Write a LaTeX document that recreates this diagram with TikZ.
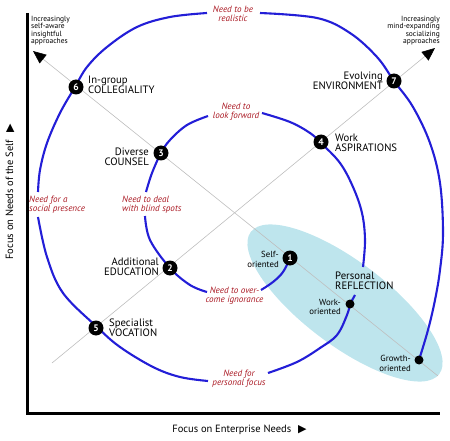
\documentclass[tikz,border=0pt]{standalone}
\usepackage{fontspec}
\setmainfont{PT Sans}
\newfontfamily\trifont{DejaVu Sans}
\usetikzlibrary{arrows.meta}
\definecolor{spiralblue}{RGB}{35,30,215}
\definecolor{needred}{RGB}{170,25,35}
\definecolor{cyanfill}{RGB}{190,229,237}
\definecolor{diaggray}{RGB}{190,190,190}
\begin{document}
\begin{tikzpicture}[x=1pt,y=-1pt,
  stagenum/.style={circle,fill=black,minimum size=15pt,inner sep=0pt,text=white,font=\bfseries\fontsize{9.5}{9.5}\selectfont},
  smalldot/.style={circle,fill=black,minimum size=9pt,inner sep=0pt},
  stagelabel/.style={font=\fontsize{10.7}{10.5}\selectfont,inner sep=0pt,align=left},
  orientlabel/.style={font=\fontsize{8.8}{9.2}\selectfont,inner sep=0pt,align=right},
  needlabel/.style={font=\itshape\fontsize{9.1}{9.3}\selectfont,text=needred,inner sep=0pt,align=center},
  cornerlabel/.style={font=\fontsize{7.5}{7.6}\selectfont,inner sep=0pt},
  axislabel/.style={font=\fontsize{10.5}{10.5}\selectfont,inner sep=0pt},
  diagline/.style={draw=diaggray,line width=0.6pt},
  spiralline/.style={draw=spiralblue,line width=2.1pt},
  axisline/.style={draw=black,line width=3pt}
]
\useasboundingbox (0,0) rectangle (450,441);

% light blue ellipse
\fill[cyanfill, rotate around={-37:(345,303)}] (345,303) ellipse [x radius=118, y radius=42];

% diagonals
\coordinate (aStart) at (438,376);
\coordinate (aTip) at (33,51);
\coordinate (bStart) at (52,363);
\coordinate (bTip) at (435,48);
\draw[diagline,-{Triangle[length=13pt,width=11pt,color=black]}] (aStart) -- (aTip);
\draw[diagline,-{Triangle[length=13pt,width=11pt,color=black]}] (bStart) -- (bTip);

% axes
\coordinate (axTop) at (27,13);
\coordinate (axCorner) at (27,413);
\coordinate (axRight) at (440,413);
\draw[axisline] (axTop) -- (axCorner) -- (axRight);

% spiral segments
\draw[spiralline] plot[smooth,tension=0.6] coordinates {(290,258) (283,272) (273,282) (261,290)};
\draw[spiralline] plot[smooth,tension=0.6] coordinates {(207,292) (190,285) (170,268) (150,240) (145,216)};
\draw[spiralline] plot[smooth,tension=0.6] coordinates {(146,192) (152,173) (161,153) (170,140) (187,125) (208,116)};
\draw[spiralline] plot[smooth,tension=0.6] coordinates {(262,113) (290,122) (310,133) (321,143) (340,163) (353,187) (362,213) (365,240) (363,267)};
\draw[spiralline] plot[smooth,tension=0.6] coordinates {(355,295) (350,304)};
\draw[spiralline] plot[smooth,tension=0.6] coordinates {(350,304) (347,315) (337,335) (320,348) (297,362) (268,373)};
\draw[spiralline] plot[smooth,tension=0.6] coordinates {(208,381) (180,377) (153,367) (120,347) (97,327) (63,293) (47,257) (38,217)};
\draw[spiralline] plot[smooth,tension=0.6] coordinates {(38,192) (40,170) (47,143) (60,113) (75,87) (87,67) (107,47) (137,27) (170,17) (207,13)};
\draw[spiralline] plot[smooth,tension=0.6] coordinates {(260,13) (317,18) (350,33) (377,57) (394,81) (413,107) (430,143) (440,183) (443,233) (440,270) (435,300) (428,330) (419,360)};

% stage markers
\node[stagenum] (n1) at (290,258) {1};
\node[stagenum] (n2) at (170,268) {2};
\node[stagenum] (n3) at (161,153) {3};
\node[stagenum] (n4) at (321,142) {4};
\node[stagenum] (n5) at (96,328) {5};
\node[stagenum] (n6) at (76,87) {6};
\node[stagenum] (n7) at (394,81) {7};
\node[smalldot] (dw) at (350,304) {};
\node[smalldot] (dg) at (419,360) {};

% stage labels
\node[stagelabel,anchor=west,align=left] (l6) at (88,85) {In-group\\COLLEGIALITY};
\node[stagelabel,anchor=east,align=right] (l3) at (149,157) {Diverse\\COUNSEL};
\node[stagelabel,anchor=east,align=right] (l2) at (159,267) {Additional\\EDUCATION};
\node[stagelabel,anchor=west,align=left] (l5) at (109,328) {Specialist\\VOCATION};
\node[stagelabel,anchor=west,align=left] (l4) at (335,143) {Work\\ASPIRATIONS};
\node[stagelabel,anchor=east,align=right] (l7) at (383,81) {Evolving\\ENVIRONMENT};
\node[stagelabel,anchor=west,align=left] (lp) at (335,281) {Personal\\REFLECTION};
\node[orientlabel,anchor=east] (ls) at (279,259.5) {Self-\\oriented};
\node[orientlabel,anchor=east] (lw) at (341,307) {Work-\\oriented};
\node[orientlabel,anchor=east] (lg) at (411,363.5) {Growth-\\oriented};

% need labels
\node[needlabel] (r1) at (233,13.5) {Need to be\\realistic};
\node[needlabel] (r2) at (236,111.5) {Need to\\look forward};
\node[needlabel,anchor=west,align=left] (r3) at (29,204.5) {Need for a\\social presence};
\node[needlabel,anchor=west,align=left] (r4) at (122,204.5) {Need to deal\\with blind spots};
\node[needlabel] (r5) at (234.5,295.5) {Need to over-\\come ignorance};
\node[needlabel] (r6) at (239,378.5) {Need for\\personal focus};

% corner labels
\node[cornerlabel,anchor=north west,align=left] (cl) at (31,15.5) {Increasingly\\self-aware\\insightful\\approaches};
\node[cornerlabel,anchor=north east,align=right] (cr) at (440,15.5) {Increasingly\\mind-expanding\\socializing\\approaches};

% axis labels
\node[axislabel] (xl) at (239.5,430) {Focus on Enterprise Needs\hspace{7pt}{\trifont\fontsize{11}{11}\selectfont ▶}};
\node[axislabel,rotate=90] (yl) at (10,192) {Focus on Needs of the Self\hspace{7pt}{\trifont\fontsize{11}{11}\selectfont ▶}};
\end{tikzpicture}
\end{document}
